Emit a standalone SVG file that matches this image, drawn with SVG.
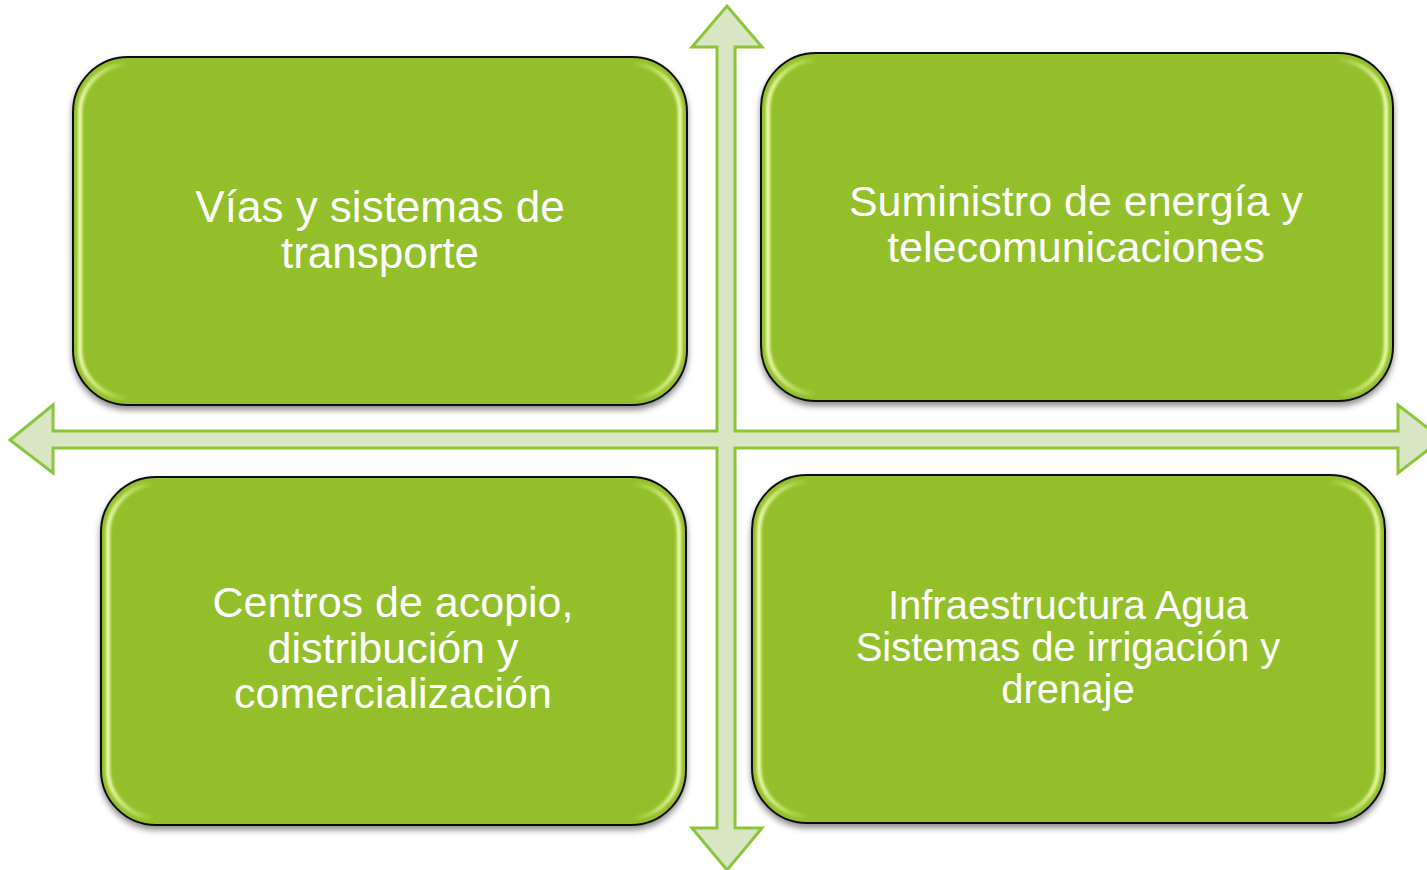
<svg xmlns="http://www.w3.org/2000/svg" width="1427" height="870" viewBox="0 0 1427 870">
  <defs>
    <filter id="shadow" x="-10%" y="-10%" width="120%" height="125%">
      <feGaussianBlur in="SourceAlpha" stdDeviation="3"/>
      <feOffset dx="0" dy="4" result="b"/>
      <feComponentTransfer><feFuncA type="linear" slope="0.45"/></feComponentTransfer>
      <feMerge><feMergeNode/><feMergeNode in="SourceGraphic"/></feMerge>
    </filter>
    <filter id="glow" x="-5%" y="-5%" width="110%" height="110%">
      <feGaussianBlur stdDeviation="1.6"/>
    </filter>
    <linearGradient id="hl" x1="0" y1="0" x2="1" y2="0">
      <stop offset="0" stop-color="#f4ffb8" stop-opacity="1"/>
      <stop offset="0.04" stop-color="#e8fa9a" stop-opacity="0.6"/>
      <stop offset="0.08" stop-color="#e8fa9a" stop-opacity="0"/>
      <stop offset="0.92" stop-color="#e8fa9a" stop-opacity="0"/>
      <stop offset="0.96" stop-color="#e8fa9a" stop-opacity="0.6"/>
      <stop offset="1" stop-color="#f4ffb8" stop-opacity="1"/>
    </linearGradient>
  </defs>
  <style>
    .box { fill: #93C02A; stroke: #111111; stroke-width: 2; }
    .hl { fill: none; stroke: url(#hl); stroke-width: 4; }
    .lbl { fill: #ffffff; font-family: "Liberation Sans", Arial, sans-serif; text-anchor: middle; }
    .cross { fill: #D8E6C4; stroke: #8DC43A; stroke-width: 3; stroke-linejoin: miter; }
  </style>
  <rect width="1427" height="870" fill="#ffffff"/>

  <g id="connectors">
    <path class="cross" d="M727,6 L762,47 L735,47 L735,431 L1398,431 L1398,405 L1442,439 L1398,473 L1398,448 L735,448 L735,828 L762,828 L727,870 L692,828 L717,828 L717,448 L53,448 L53,473 L10,440 L53,405 L53,431 L717,431 L717,47 L692,47 Z"/>
  </g>

  <g id="node-vias">
    <rect class="box" x="73" y="57" width="614" height="348" rx="55" ry="55" filter="url(#shadow)"/>
    <rect class="hl" x="80" y="64" width="600" height="334" rx="49" ry="49" filter="url(#glow)"/>
    <text class="lbl" font-size="44"><tspan x="380" y="222">Vías y sistemas de</tspan><tspan x="380" y="268">transporte</tspan></text>
  </g>

  <g id="node-energia">
    <rect class="box" x="761" y="53" width="632" height="348" rx="55" ry="55" filter="url(#shadow)"/>
    <rect class="hl" x="768" y="60" width="618" height="334" rx="49" ry="49" filter="url(#glow)"/>
    <text class="lbl" font-size="43"><tspan x="1076" y="216">Suministro de energía y</tspan><tspan x="1076" y="262">telecomunicaciones</tspan></text>
  </g>

  <g id="node-centros">
    <rect class="box" x="101" y="477" width="585" height="348" rx="55" ry="55" filter="url(#shadow)"/>
    <rect class="hl" x="108" y="484" width="571" height="334" rx="49" ry="49" filter="url(#glow)"/>
    <text class="lbl" font-size="43"><tspan x="393" y="617">Centros de acopio,</tspan><tspan x="393" y="663">distribución y</tspan><tspan x="393" y="708">comercialización</tspan></text>
  </g>

  <g id="node-agua">
    <rect class="box" x="752" y="475" width="633" height="348" rx="55" ry="55" filter="url(#shadow)"/>
    <rect class="hl" x="759" y="482" width="619" height="334" rx="49" ry="49" filter="url(#glow)"/>
    <text class="lbl" font-size="40"><tspan x="1068" y="619">Infraestructura Agua</tspan><tspan x="1068" y="661">Sistemas de irrigación y</tspan><tspan x="1068" y="703">drenaje</tspan></text>
  </g>
</svg>
